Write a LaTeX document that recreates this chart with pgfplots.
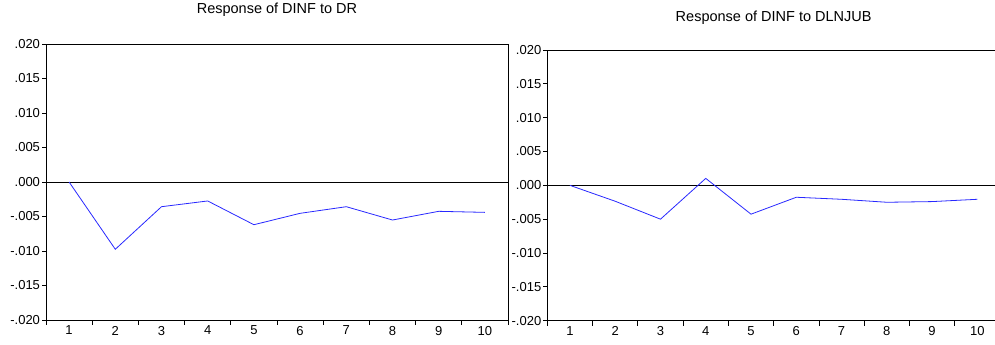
\documentclass[border=0pt]{standalone}
\usepackage{fontspec}
\setmainfont{Liberation Sans}
\usepackage{pgfplots}
\pgfplotsset{compat=1.18}
\definecolor{irfblue}{RGB}{40,40,255}
\begin{document}
\begin{tikzpicture}
\useasboundingbox (0pt,0pt) rectangle (995pt,345pt);
\pgfplotsset{
 irf/.style={
  scale only axis,
  xmin=0.5, xmax=10.5, ymin=-0.02, ymax=0.02,
  xtick={1,2,3,4,5,6,7,8,9,10},
  xticklabels={1,2,3,4,5,6,7,8,9,10},
  major x tick style={draw=none},
  minor xtick={0.5,1.5,2.5,3.5,4.5,5.5,6.5,7.5,8.5,9.5,10.5},
  minor tick length=5pt,
  major tick length=4pt,
  tick align=outside,
  xtick pos=bottom, ytick pos=left,
  scaled y ticks=false,
  ytick={-0.02,-0.015,-0.01,-0.005,0,0.005,0.01,0.015,0.02},
  yticklabels={-.020,-.015,-.010,-.005,.000,.005,.010,.015,.020},
  ticklabel style={font=\fontsize{13}{13}\selectfont},
  yticklabel style={xshift=1.5pt},
  xticklabel style={yshift=1.5pt},
  axis line style={line width=0.9pt},
  tick style={line width=0.8pt, black},
  title style={font=\fontsize{14.5}{15}\selectfont, at={(0.5,1)}, anchor=base},
 }
}
\begin{axis}[irf, at={(46pt,25pt)}, anchor=south west, width=462pt, height=276pt,
  title={Response of DINF to DR}, title style={yshift=24.5pt}]
\addplot[black, line width=0.8pt] coordinates {(0.5,0) (10.5,0)};
\addplot[irfblue, line width=0.8pt] coordinates {
(1,0) (2,-0.00975) (3,-0.00358) (4,-0.00275) (5,-0.00619)
(6,-0.00454) (7,-0.00358) (8,-0.00551) (9,-0.00425) (10,-0.00440)};
\end{axis}
\begin{axis}[irf, at={(547.3pt,24.3pt)}, anchor=south west, width=452.7pt, height=270.7pt,
  title={Response of DINF to DLNJUB}, title style={yshift=22.7pt}]
\addplot[black, line width=0.8pt] coordinates {(0.5,0) (10.5,0)};
\addplot[irfblue, line width=0.8pt] coordinates {
(1,0) (2,-0.00235) (3,-0.00500) (4,0.00103) (5,-0.00426)
(6,-0.00176) (7,-0.00206) (8,-0.00250) (9,-0.00240) (10,-0.00206)};
\end{axis}
\end{tikzpicture}
\end{document}
